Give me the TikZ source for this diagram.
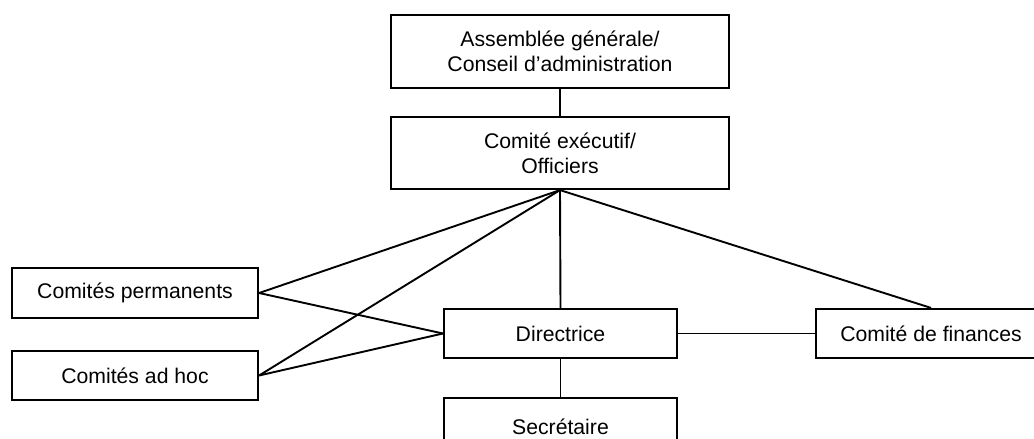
\documentclass[tikz,border=0pt]{standalone}
\usepackage{fontspec}
\setmainfont{Liberation Sans}
\usepackage{tikz}

\begin{document}
\begin{tikzpicture}[
  x=0.5pt, y=-0.5pt,
  box/.style={
    draw=black, line width=1.1pt, fill=white,
    align=center, inner sep=0pt,
    font=\fontsize{10.6}{12.6}\selectfont
  },
  conn/.style={black, line width=0.95pt}
]

\useasboundingbox (0,0) rectangle (1034,439);
\clip (0,0) rectangle (1034,439);

% --- Direction ---
\node[box, minimum width=169pt, minimum height=36.5pt] (AG) at (560, 51.5)
  {Assemblée générale/\\Conseil d’administration};
\node[box, minimum width=169pt, minimum height=36pt] (CE) at (560, 153)
  {Comité exécutif/\\Officiers};

% --- Comités ---
\node[box, minimum width=123pt, minimum height=25pt] (CP) at (135, 293)
  {Comités permanents};
\node[box, minimum width=123pt, minimum height=24.5pt] (CA) at (135, 375.5)
  {Comités ad hoc};

% --- Personnel ---
\node[box, minimum width=116.5pt, minimum height=24.5pt] (DIR) at (560.5, 333.5)
  {Directrice};
\node[box, minimum width=115pt, minimum height=24.5pt] (FIN) at (931, 333.5)
  {Comité de finances};
\node[box, minimum width=116.5pt, minimum height=29pt] (SEC) at (560.5, 427)
  {Secrétaire};

% --- Liens ---
\draw[conn] (AG) -- (CE);
\draw[conn] (CE.south) -- (CP.east);
\draw[conn] (CE.south) -- (CA.east);
\draw[conn] (CE.south) -- (DIR.north);
\draw[conn] (CE.south) -- (FIN.north);
\draw[conn] (CP.east) -- (DIR.west);
\draw[conn] (CA.east) -- (DIR.west);
\draw[conn] (DIR) -- (FIN);
\draw[conn] (DIR) -- (SEC);

\end{tikzpicture}
\end{document}
